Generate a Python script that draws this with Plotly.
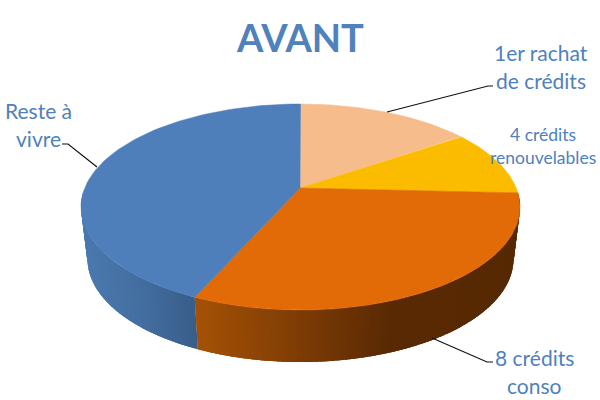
import numpy as np
import plotly.graph_objects as go

# Data
title = "AVANT"
categories = ["1er rachat de crédits", "4 crédits renouvelables", "8 crédits conso", "Reste à vivre"]
values = [13.0, 9.8, 35.2, 42.0]
colors = ["#F6BC8C", "#FBBC00", "#E26B07", "#4E7FBB"]
label_lines = [["1er rachat", "de crédits"], ["4 crédits", "renouvelables"], ["8 crédits", "conso"], ["Reste à", "vivre"]]

TEXT = "#4F81BD"
FONT = "Lato"

# Projection of the tilted disc on the canvas
CX, CY, RX, RY = 300.5, 207, 219.5, 103
BX, BY, BRX, BRY = 300.5, 259, 213, 103
APEX = (300, 188)


def top(t):
    return CX + RX * np.sin(t), CY - RY * np.cos(t)


def bottom(t):
    return BX + BRX * np.sin(t), BY - BRY * np.cos(t)


def hex_rgb(h):
    return np.array([int(h[i:i + 2], 16) for i in (1, 3, 5)], float)


def mix(stops, x):
    xs = [s[0] for s in stops]
    cs = np.array([hex_rgb(s[1]) for s in stops])
    rgb = [np.interp(x, xs, cs[:, i]) for i in range(3)]
    return "rgb(%d,%d,%d)" % tuple(int(round(v)) for v in rgb)


side_stops = {
    2: [(190, "#A65206"), (300, "#7C3B04"), (390, "#582903"), (520, "#572903")],
    3: [(85, "#4A79AE"), (140, "#436D9F"), (195, "#385C88")],
}

cum = np.concatenate([[0], np.cumsum(values)]) / sum(values) * 2 * np.pi
fig = go.Figure()

# Visible rim: overlapping strips along the lower half of the disc
for idx in (3, 2):
    a0 = max(cum[idx], np.pi / 2 - 0.14)
    a1 = min(cum[idx + 1], 3 * np.pi / 2 + 0.14)
    n = max(int((a1 - a0) / 0.02), 2)
    edges = np.linspace(a0, a1, n + 1)
    for t0, t1 in zip(edges[:-1], edges[1:]):
        ts = np.linspace(t0, min(t1 + 0.03, a1), 4)
        xt, yt = top(ts)
        xb, yb = bottom(ts[::-1])
        xm = float(np.mean(xt))
        col = mix(side_stops[idx], xm)
        fig.add_trace(go.Scatter(
            x=list(xt) + list(xb), y=list(yt) + list(yb),
            mode="none", fill="toself", fillcolor=col,
            hoverinfo="skip", showlegend=False))

# Top face
for i, cat in enumerate(categories):
    ts = np.linspace(cum[i], cum[i + 1], 120)
    xs, ys = top(ts)
    fig.add_trace(go.Scatter(
        x=[APEX[0]] + list(xs) + [APEX[0]], y=[APEX[1]] + list(ys) + [APEX[1]],
        mode="lines", fill="toself", fillcolor=colors[i],
        line=dict(width=0.5, color=colors[i]), name=cat, hoverinfo="name", showlegend=False))

# Leader lines
leaders = [
    [(387, 112), (488, 86), (493, 86)],
    [(432, 338), (487, 362), (493, 362)],
    [(97, 167), (68, 144), (62, 144)],
]
shapes = []
for pts in leaders:
    path = "M " + " L ".join(f"{x},{y}" for x, y in pts)
    shapes.append(dict(type="path", path=path, xref="x", yref="y",
                       line=dict(color="#111111", width=1.2)))

# Texts
ann = [dict(x=299.5, y=37, text=f"<b>{title}</b>", font=dict(size=38, color=TEXT, family=FONT))]
placements = [((541, 52), (541, 80), 21), ((543, 134), (543, 157), 17.5),
              ((534, 357), (534, 385), 21), ((38, 110), (38, 138), 21)]
for lines, (p1, p2, size) in zip(label_lines, placements):
    for line, p in zip(lines, (p1, p2)):
        ann.append(dict(x=p[0], y=p[1], text=line, font=dict(size=size, color=TEXT, family=FONT)))
for a in ann:
    a.update(xref="x", yref="y", showarrow=False, xanchor="center", yanchor="middle")

fig.update_layout(
    width=600, height=400, margin=dict(l=0, r=0, t=0, b=0),
    paper_bgcolor="white", plot_bgcolor="white",
    xaxis=dict(range=[0, 600], visible=False, fixedrange=True),
    yaxis=dict(range=[400, 0], visible=False, fixedrange=True),
    shapes=shapes, annotations=ann, showlegend=False,
)
fig.write_html("out.html", config={"displayModeBar": False},
               post_script="document.body.style.margin='0';document.body.style.overflow='hidden';")
